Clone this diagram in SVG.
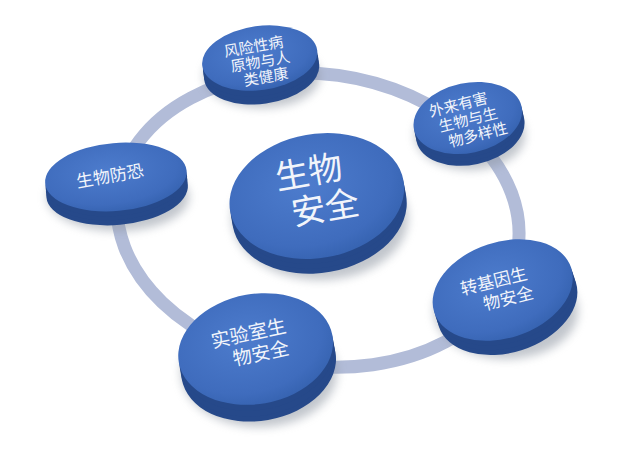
<svg xmlns="http://www.w3.org/2000/svg" width="624" height="451" viewBox="0 0 624 451">
<style>
.top{fill:url(#gTop);}
.side{fill:#26498a;}
.sh{fill:#8f97a3;opacity:.55;filter:url(#blur);}
.t{font-family:"Noto Sans CJK SC","Noto Sans",sans-serif;fill:#f2f5fb;text-anchor:middle;}
.ring{fill:none;stroke:#b2bcd8;stroke-width:13;}
</style>
<defs>
<radialGradient id="gTop" cx="45%" cy="40%" r="65%">
<stop offset="0" stop-color="#4d7ccd"/>
<stop offset="0.75" stop-color="#3f6cbd"/>
<stop offset="1" stop-color="#3461ae"/>
</radialGradient>
<filter id="blur" x="-30%" y="-30%" width="160%" height="160%">
<feGaussianBlur stdDeviation="5"/>
</filter>
</defs>
<rect width="624" height="451" fill="#ffffff"/>
<g id="connectors">
<ellipse class="ring" cx="318" cy="220" rx="202" ry="146" transform="rotate(8 318 220)"/>
</g>
<g id="n1">
<ellipse class="sh" cx="262" cy="76" rx="58" ry="32"/>
<g transform="rotate(-8 260 60)">
<ellipse class="side" cx="260" cy="72" rx="58" ry="32"/>
<ellipse class="side" cx="260" cy="68" rx="58" ry="32"/>
<ellipse class="side" cx="260" cy="64" rx="58" ry="32"/>
<ellipse class="top" cx="260" cy="58" rx="58" ry="32"/>
</g>
<g transform="rotate(-10 260 60)">
<text class="t" x="256" y="51" font-size="15">风险性病</text>
<text class="t" x="260" y="67" font-size="15">原物与人</text>
<text class="t" x="263" y="83" font-size="15">类健康</text>
</g>
</g>
<g id="n2">
<ellipse class="sh" cx="470" cy="135" rx="55" ry="35"/>
<g transform="rotate(-12 468 119)">
<ellipse class="side" cx="468" cy="130" rx="55" ry="35"/>
<ellipse class="side" cx="468" cy="126" rx="55" ry="35"/>
<ellipse class="side" cx="468" cy="122" rx="55" ry="35"/>
<ellipse class="top" cx="468" cy="118" rx="55" ry="35"/>
</g>
<g transform="rotate(-14 468 119)">
<text class="t" x="462" y="108" font-size="15">外来有害</text>
<text class="t" x="468" y="125" font-size="15">生物与生</text>
<text class="t" x="474" y="142" font-size="15">物多样性</text>
</g>
</g>
<g id="n3">
<ellipse class="sh" cx="118" cy="197" rx="71" ry="34"/>
<g transform="rotate(-5 116 178)">
<ellipse class="side" cx="116" cy="191" rx="71" ry="34"/>
<ellipse class="side" cx="116" cy="186" rx="71" ry="34"/>
<ellipse class="side" cx="116" cy="182" rx="71" ry="34"/>
<ellipse class="top" cx="116" cy="177" rx="71" ry="34"/>
</g>
<text class="t" x="110" y="182" font-size="17" transform="rotate(-10 110 176)">生物防恐</text>
</g>
<g id="n0">
<ellipse class="sh" cx="320" cy="218" rx="88" ry="62"/>
<g transform="rotate(-10 317 197)">
<ellipse class="side" cx="317" cy="211" rx="88" ry="62"/>
<ellipse class="side" cx="317" cy="206" rx="88" ry="62"/>
<ellipse class="side" cx="317" cy="201" rx="88" ry="62"/>
<ellipse class="top" cx="317" cy="196" rx="88" ry="62"/>
</g>
<g transform="rotate(-10 317 190)">
<text class="t" x="312" y="183" font-size="34">生物</text>
<text class="t" x="322" y="221" font-size="34">安全</text>
</g>
</g>
<g id="n4">
<ellipse class="sh" cx="506" cy="311" rx="72" ry="48"/>
<g transform="rotate(-18 503 291)">
<ellipse class="side" cx="503" cy="305" rx="72" ry="48"/>
<ellipse class="side" cx="503" cy="300" rx="72" ry="48"/>
<ellipse class="side" cx="503" cy="295" rx="72" ry="48"/>
<ellipse class="top" cx="503" cy="290" rx="72" ry="48"/>
</g>
<g transform="rotate(-14 500 290)">
<text class="t" x="496" y="286" font-size="17">转基因生</text>
<text class="t" x="506" y="306" font-size="17">物安全</text>
</g>
</g>
<g id="n5">
<ellipse class="sh" cx="259" cy="372" rx="78" ry="55"/>
<g transform="rotate(-10 256 351)">
<ellipse class="side" cx="256" cy="366" rx="78" ry="55"/>
<ellipse class="side" cx="256" cy="361" rx="78" ry="55"/>
<ellipse class="side" cx="256" cy="355" rx="78" ry="55"/>
<ellipse class="top" cx="256" cy="349" rx="78" ry="55"/>
</g>
<g transform="rotate(-12 255 340)">
<text class="t" x="250" y="339" font-size="19">实验室生</text>
<text class="t" x="258" y="361" font-size="19">物安全</text>
</g>
</g>
</svg>
